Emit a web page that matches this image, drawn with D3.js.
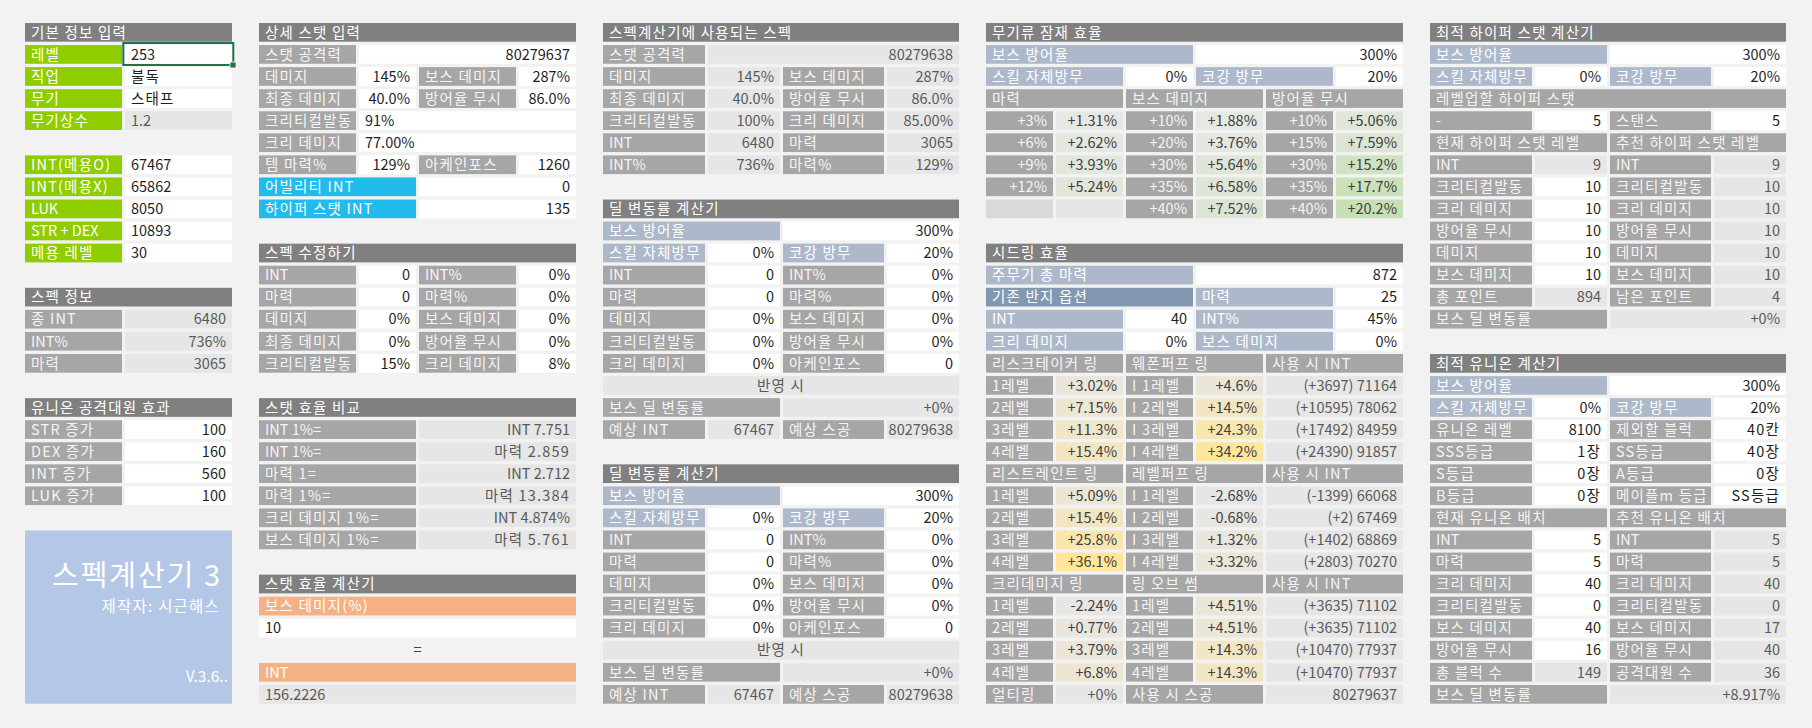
<!DOCTYPE html>
<html>
<head>
<meta charset="utf-8">
<script src="https://cdn.jsdelivr.net/npm/d3@7"></script>
<style>
  body { margin: 0; background: #f2f2f2; }
  svg { display: block; font-family: "Noto Sans CJK KR", "Noto Sans", sans-serif; font-size: 14.5px; }
</style>
</head>
<body>
<svg width="1812" height="728"></svg>
<script>
// ---- data ----
// 기본 정보 / 스펙 정보 / 유니온
var titles1 = ["기본 정보 입력", "스펙 정보", "유니온 공격대원 효과"];
var basicLabels = ["레벨", "직업", "무기", "무기상수"];
var basicValues = ["253", "불독", "스태프", "1.2"];
var charLabels = ["INT(메용O)", "INT(메용X)", "LUK", "STR + DEX", "메용 레벨"];
var charValues = [67467, 65862, 8050, 10893, 30];
var specLabels = ["종 INT", "INT%", "마력"];
var specValues = ["6480", "736%", "3065"];
var unionBonusLabels = ["STR 증가", "DEX 증가", "INT 증가", "LUK 증가"];
var unionBonusValues = [100, 160, 560, 100];
var creditLines = ["스펙계산기 3", "제작자: 시근해스", "V.3.6.."];

// 상세 스탯 입력 / 스펙 수정하기 / 스탯 효율
var titles2 = ["상세 스탯 입력", "스펙 수정하기", "스탯 효율 비교", "스탯 효율 계산기"];
var statAttack = [80279637, 80279638];   // 입력값, 계산기에 쓰인 값
var detailRows = [
    ["데미지", "145%", "보스 데미지", "287%"],
    ["최종 데미지", "40.0%", "방어율 무시", "86.0%"],
    ["크리티컬발동", "91%"],
    ["크리 데미지", "77.00%"],
    ["템 마력%", "129%", "아케인포스", "1260"]
];
var bonusIntLabels = ["어빌리티 INT", "하이퍼 스탯 INT"];
var bonusIntValues = [0, 135];
var modifyRows = [
    ["INT", "0", "INT%", "0%"],
    ["마력", "0", "마력%", "0%"],
    ["데미지", "0%", "보스 데미지", "0%"],
    ["최종 데미지", "0%", "방어율 무시", "0%"],
    ["크리티컬발동", "15%", "크리 데미지", "8%"]
];
var compareLabels = ["INT 1%=", "INT 1%=", "마력 1=", "마력 1%=", "크리 데미지 1%=", "보스 데미지 1%="];
var compareValues = ["INT 7.751", "마력 2.859", "INT 2.712", "마력 13.384", "INT 4.874%", "마력 5.761"];
var effCalcLabels = ["보스 데미지(%)", "INT"];
var effCalcValues = ["10", "156.2226"];

// 스펙계산기에 사용되는 스펙 / 딜 변동률 계산기
var titles3 = ["스펙계산기에 사용되는 스펙", "딜 변동률 계산기"];
var usedRows = [
    ["데미지", "145%", "보스 데미지", "287%"],
    ["최종 데미지", "40.0%", "방어율 무시", "86.0%"],
    ["크리티컬발동", "100%", "크리 데미지", "85.00%"],
    ["INT", "6480", "마력", "3065"],
    ["INT%", "736%", "마력%", "129%"]
];
var defenseLabels = ["보스 방어율", "스킬 자체방무", "코강 방무"];
var defenseValues = ["300%", "0%", "20%"];
var dealRows = [
    ["INT", "0", "INT%", "0%"],
    ["마력", "0", "마력%", "0%"],
    ["데미지", "0%", "보스 데미지", "0%"],
    ["크리티컬발동", "0%", "방어율 무시", "0%"],
    ["크리 데미지", "0%", "아케인포스", "0"]
];
var dealResultLabels = ["반영 시", "보스 딜 변동률", "예상 INT", "예상 스공"];
var dealResult = ["+0%", "67467", "80279638"];

// 무기류 잠재 효율
var titles4 = ["무기류 잠재 효율", "시드링 효율"];
var potentialHeads = ["마력", "보스 데미지", "방어율 무시"];
var magicOpts = [3, 6, 9, 12];
var magicGain = [1.31, 2.62, 3.93, 5.24];
var bossOpts = [10, 20, 30, 35, 40];
var bossGain = [1.88, 3.76, 5.64, 6.58, 7.52];
var iedOpts = [10, 15, 30, 35, 40];
var iedGain = [5.06, 7.59, 15.2, 17.7, 20.2];

// 시드링 효율
var seedLabels = ["주무기 총 마력", "기존 반지 옵션", "마력", "INT", "INT%", "크리 데미지", "보스 데미지"];
var seedValues = ["872", "25", "40", "45%", "0%", "0%"];
var levelNames = ["1레벨", "2레벨", "3레벨", "4레벨"];
var ringNames = ["리스크테이커 링", "웨폰퍼프 링", "리스트레인트 링", "레벨퍼프 링", "크리데미지 링", "링 오브 썸"];
var riskTaker = [3.02, 7.15, 11.3, 15.4];
var weaponPuff = [4.6, 14.5, 24.3, 34.2];
var weaponPuffInt = ["(+3697) 71164", "(+10595) 78062", "(+17492) 84959", "(+24390) 91857"];
var restraint = [5.09, 15.4, 25.8, 36.1];
var levelPuff = [-2.68, -0.68, 1.32, 3.32];
var levelPuffInt = ["(-1399) 66068", "(+2) 67469", "(+1402) 68869", "(+2803) 70270"];
var critRing = [-2.24, 0.77, 3.79, 6.8];
var ringOfSum = [4.51, 4.51, 14.3, 14.3];
var ringOfSumInt = ["(+3635) 71102", "(+3635) 71102", "(+10470) 77937", "(+10470) 77937"];
var ultimateRing = 0;
var ringAttack = 80279637;

// 최적 하이퍼 스탯 / 유니온
var titles5 = ["최적 하이퍼 스탯 계산기", "최적 유니온 계산기"];
var hyperLevelUp = ["-", "5", "스탠스", "5"];
var hyperLabels = ["INT", "크리티컬발동", "크리 데미지", "방어율 무시", "데미지", "보스 데미지"];
var hyperCurrent = [9, 10, 10, 10, 10, 10];
var hyperBest = [9, 10, 10, 10, 10, 10];
var hyperPoints = [894, 4];
var hyperGain = "+0%";
var unionInputRows = [
    ["유니온 레벨", "8100", "제외할 블럭", "40칸"],
    ["SSS등급", "1장", "SS등급", "40장"],
    ["S등급", "0장", "A등급", "0장"],
    ["B등급", "0장", "메이플m 등급", "SS등급"]
];
var unionLabels = ["INT", "마력", "크리 데미지", "크리티컬발동", "보스 데미지", "방어율 무시"];
var unionCurrent = [5, 5, 40, 0, 40, 16];
var unionBest = [5, 5, 40, 0, 17, 40];
var unionCounts = [149, 36];
var unionGain = "+8.917%";

// ---- layout ----
var svg = d3.select("svg");
var rowY = d3.scaleLinear().domain([0, 30]).range([23, 685]);
var ROW_H = 18.7, GAP = 3, PAD = 6;
var HANGUL = /[\uac00-\ud7a3]/;

var STYLES = {
    head:      { fill: "#808080", color: "#ffffff", align: "l" },
    label:     { fill: "#a6a6a6", color: "#f5f5f5", align: "l" },
    input:     { fill: "#ffffff", color: "#1e1e1e", align: "r" },
    calc:      { fill: "#e6e6e6", color: "#595959", align: "r" },
    tint:      { fill: "#e6e6e6", color: "#404040", align: "r" },
    green:     { fill: "#8fcc00", color: "#ffffff", align: "l" },
    cyan:      { fill: "#22bbec", color: "#ffffff", align: "l" },
    slate:     { fill: "#adb9ca", color: "#ffffff", align: "l" },
    slateDark: { fill: "#8497b0", color: "#ffffff", align: "l" },
    orange:    { fill: "#f4b183", color: "#ffffff", align: "l" },
    empty:     { fill: "#d9d9d9", color: "#ffffff", align: "l" },
    plain:     { fill: "none",    color: "#404040", align: "c" }
};

function pct(v) { return (v < 0 ? "-" : "+") + Math.abs(v) + "%"; }

// one panel = a group of spreadsheet columns; returns a cell drawer
function makePanel(edges) {
    var colX = d3.scaleOrdinal().domain(d3.range(edges.length)).range(edges);
    var g = svg.append("g");
    return function(r, c0, c1, text, style, align, fill) {
        var s = STYLES[style];
        var x0 = colX(c0), w = colX(c1) - x0 - GAP, y = rowY(r);
        var f = fill || s.fill;
        if (f !== "none") {
            g.append("rect").attr("x", x0).attr("y", y)
                .attr("width", w).attr("height", ROW_H).attr("fill", f);
        }
        if (text === "" || text == null) return;
        var a = align || s.align;
        var t = g.append("text")
            .attr("y", y + ROW_H / 2).attr("dy", "0.36em")
            .attr("fill", s.color).text(text);
        // malgun-like wider hangul
        if (HANGUL.test(String(text))) t.style("letter-spacing", "1.2px");
        if (a === "r") t.attr("x", x0 + w - PAD).attr("text-anchor", "end");
        else if (a === "c") t.attr("x", x0 + w / 2).attr("text-anchor", "middle");
        else t.attr("x", x0 + PAD);
    };
}

function pairRows(p, start, rows, valStyle) {
    rows.forEach(function(d, i) {
        var r = start + i;
        p(r, 0, 1, d[0], "label");
        p(r, 1, 2, d[1], valStyle);
        p(r, 2, 3, d[2], "label");
        p(r, 3, 4, d[3], valStyle);
    });
}

// 보스 방어율 + 스킬 자체방무/코강 방무 (4-column panels)
function defenseBlock(p, r) {
    p(r, 0, 2, defenseLabels[0], "slate");
    p(r, 2, 4, defenseValues[0], "input");
    p(r + 1, 0, 1, defenseLabels[1], "slate");
    p(r + 1, 1, 2, defenseValues[1], "input");
    p(r + 1, 2, 3, defenseLabels[2], "slate");
    p(r + 1, 3, 4, defenseValues[2], "input");
}

// ---- panel 1 ----
var p1 = makePanel([25, 125, 235]);
p1(0, 0, 2, titles1[0], "head");
basicLabels.forEach(function(d, i) {
    p1(1 + i, 0, 1, d, "green");
    p1(1 + i, 1, 2, basicValues[i], i === 3 ? "calc" : "input", "l");
});
charLabels.forEach(function(d, i) {
    p1(6 + i, 0, 1, d, "green");
    p1(6 + i, 1, 2, charValues[i], "input", "l");
});
p1(12, 0, 2, titles1[1], "head");
specLabels.forEach(function(d, i) {
    p1(13 + i, 0, 1, d, "label");
    p1(13 + i, 1, 2, specValues[i], "calc");
});
p1(17, 0, 2, titles1[2], "head");
unionBonusLabels.forEach(function(d, i) {
    p1(18 + i, 0, 1, d, "label");
    p1(18 + i, 1, 2, unionBonusValues[i], "input");
});

// active cell outline (excel selection)
svg.append("rect").attr("x", 123.3).attr("y", 43).attr("width", 110).attr("height", 22)
    .attr("fill", "none").attr("stroke", "#217346").attr("stroke-width", 2);
svg.append("rect").attr("x", 230).attr("y", 62).attr("width", 6).attr("height", 6)
    .attr("fill", "#217346").attr("stroke", "#ffffff").attr("stroke-width", 0.8);

// title card
var cardTop = rowY(23), cardBottom = rowY(30) + ROW_H;
svg.append("rect").attr("x", 25).attr("y", cardTop).attr("width", 207)
    .attr("height", cardBottom - cardTop).attr("fill", "#b4c7e7");
svg.append("text").attr("x", 222).attr("y", 586).attr("text-anchor", "end")
    .attr("fill", "#ffffff").style("font-size", "29px").style("letter-spacing", "2px")
    .text(creditLines[0]);
svg.append("text").attr("x", 220).attr("y", 612).attr("text-anchor", "end")
    .attr("fill", "#ffffff").style("font-size", "15.5px").style("letter-spacing", "1.2px")
    .text(creditLines[1]);
svg.append("text").attr("x", 228).attr("y", 682).attr("text-anchor", "end")
    .attr("fill", "#ffffff").style("font-size", "15.5px").text(creditLines[2]);

// ---- panel 2 ----
var p2 = makePanel([259, 359, 419, 519, 579]);
p2(0, 0, 4, titles2[0], "head");
p2(1, 0, 1, "스탯 공격력", "label");
p2(1, 1, 4, statAttack[0], "input");
detailRows.forEach(function(d, i) {
    var r = 2 + i;
    p2(r, 0, 1, d[0], "label");
    if (d.length === 2) {
        p2(r, 1, 4, d[1], "input", "l");
    } else {
        p2(r, 1, 2, d[1], "input");
        p2(r, 2, 3, d[2], "label");
        p2(r, 3, 4, d[3], "input");
    }
});
bonusIntLabels.forEach(function(d, i) {
    p2(7 + i, 0, 2, d, "cyan");
    p2(7 + i, 2, 4, bonusIntValues[i], "input");
});
p2(10, 0, 4, titles2[1], "head");
pairRows(p2, 11, modifyRows, "input");
p2(17, 0, 4, titles2[2], "head");
compareLabels.forEach(function(d, i) {
    p2(18 + i, 0, 2, d, "label");
    p2(18 + i, 2, 4, compareValues[i], "calc");
});
p2(25, 0, 4, titles2[3], "head");
p2(26, 0, 4, effCalcLabels[0], "orange");
p2(27, 0, 4, effCalcValues[0], "input", "l");
p2(28, 0, 4, "=", "plain", "c");
p2(29, 0, 4, effCalcLabels[1], "orange");
p2(30, 0, 4, effCalcValues[1], "calc", "l");

// ---- panel 3 ----
var p3 = makePanel([603, 708, 783, 887, 962]);
p3(0, 0, 4, titles3[0], "head");
p3(1, 0, 1, "스탯 공격력", "label");
p3(1, 1, 4, statAttack[1], "calc");
pairRows(p3, 2, usedRows, "calc");

[8, 20].forEach(function(b) {
    p3(b, 0, 4, titles3[1], "head");
    defenseBlock(p3, b + 1);
    pairRows(p3, b + 3, dealRows, "input");
    p3(b + 8, 0, 4, dealResultLabels[0], "calc", "c");
    p3(b + 9, 0, 2, dealResultLabels[1], "label");
    p3(b + 9, 2, 4, dealResult[0], "calc");
    p3(b + 10, 0, 1, dealResultLabels[2], "label");
    p3(b + 10, 1, 2, dealResult[1], "calc");
    p3(b + 10, 2, 3, dealResultLabels[3], "label");
    p3(b + 10, 3, 4, dealResult[2], "calc");
});

// ---- panel 4 ----
var p4 = makePanel([986, 1056, 1126, 1196, 1266, 1336, 1406]);
var potentialColor = d3.scaleLinear()
    .domain(d3.extent(magicGain.concat(bossGain, iedGain)))
    .range(["#e7e8e4", "#c6e0b4"]);
var ringColor = d3.scaleLinear()
    .domain(d3.extent(riskTaker.concat(weaponPuff, restraint, levelPuff, critRing, ringOfSum)))
    .range(["#e7e6e6", "#ffe699"]);

p4(0, 0, 6, titles4[0], "head");
p4(1, 0, 3, defenseLabels[0], "slate");
p4(1, 3, 6, defenseValues[0], "input");
p4(2, 0, 2, defenseLabels[1], "slate");
p4(2, 2, 3, defenseValues[1], "input");
p4(2, 3, 5, defenseLabels[2], "slate");
p4(2, 5, 6, defenseValues[2], "input");
potentialHeads.forEach(function(d, i) { p4(3, i * 2, i * 2 + 2, d, "label"); });
[[magicOpts, magicGain], [bossOpts, bossGain], [iedOpts, iedGain]].forEach(function(pair, k) {
    var opts = pair[0], gains = pair[1], c = k * 2;
    d3.range(5).forEach(function(j) {
        var r = 4 + j;
        if (j < opts.length) {
            p4(r, c, c + 1, "+" + opts[j] + "%", "label", "r");
            p4(r, c + 1, c + 2, pct(gains[j]), "tint", "r", potentialColor(gains[j]));
        } else {
            p4(r, c, c + 1, "", "empty");
            p4(r, c + 1, c + 2, "", "calc");
        }
    });
});

p4(10, 0, 6, titles4[1], "head");
p4(11, 0, 3, seedLabels[0], "slate");
p4(11, 3, 6, seedValues[0], "input");
p4(12, 0, 3, seedLabels[1], "slateDark");
p4(12, 3, 5, seedLabels[2], "slate");
p4(12, 5, 6, seedValues[1], "input");
[[13, 3, 4], [14, 5, 6]].forEach(function(d, i) {
    p4(d[0], 0, 2, seedLabels[d[1]], "slate");
    p4(d[0], 2, 3, seedValues[2 + i * 2], "input");
    p4(d[0], 3, 5, seedLabels[d[2]], "slate");
    p4(d[0], 5, 6, seedValues[3 + i * 2], "input");
});

var ringBlocks = [
    { row: 15, names: [ringNames[0], ringNames[1]], left: riskTaker, right: weaponPuff, ints: weaponPuffInt, prefix: "I " },
    { row: 20, names: [ringNames[2], ringNames[3]], left: restraint, right: levelPuff, ints: levelPuffInt, prefix: "I " },
    { row: 25, names: [ringNames[4], ringNames[5]], left: critRing, right: ringOfSum, ints: ringOfSumInt, prefix: "" }
];
ringBlocks.forEach(function(b) {
    p4(b.row, 0, 2, b.names[0], "label");
    p4(b.row, 2, 4, b.names[1], "label");
    p4(b.row, 4, 6, "사용 시 INT", "label");
    levelNames.forEach(function(lv, j) {
        var r = b.row + 1 + j;
        p4(r, 0, 1, lv, "label");
        p4(r, 1, 2, pct(b.left[j]), "tint", "r", ringColor(b.left[j]));
        p4(r, 2, 3, b.prefix + lv, "label");
        p4(r, 3, 4, pct(b.right[j]), "tint", "r", ringColor(b.right[j]));
        p4(r, 4, 6, b.ints[j], "calc");
    });
});
p4(30, 0, 1, "얼티링", "label");
p4(30, 1, 2, pct(ultimateRing), "calc");
p4(30, 2, 4, "사용 시 스공", "label");
p4(30, 4, 6, ringAttack, "calc");

// ---- panel 5 ----
var p5 = makePanel([1430, 1535, 1610, 1714, 1789]);
p5(0, 0, 4, titles5[0], "head");
defenseBlock(p5, 1);
p5(3, 0, 4, "레벨업할 하이퍼 스탯", "label");
p5(4, 0, 1, hyperLevelUp[0], "label");
p5(4, 1, 2, hyperLevelUp[1], "input");
p5(4, 2, 3, hyperLevelUp[2], "label");
p5(4, 3, 4, hyperLevelUp[3], "input");
p5(5, 0, 2, "현재 하이퍼 스탯 레벨", "label");
p5(5, 2, 4, "추천 하이퍼 스탯 레벨", "label");
hyperLabels.forEach(function(d, i) {
    var r = 6 + i;
    p5(r, 0, 1, d, "label");
    p5(r, 1, 2, hyperCurrent[i], i === 0 ? "calc" : "input");
    p5(r, 2, 3, d, "label");
    p5(r, 3, 4, hyperBest[i], "calc");
});
p5(12, 0, 1, "총 포인트", "label");
p5(12, 1, 2, hyperPoints[0], "calc");
p5(12, 2, 3, "남은 포인트", "label");
p5(12, 3, 4, hyperPoints[1], "calc");
p5(13, 0, 2, "보스 딜 변동률", "label");
p5(13, 2, 4, hyperGain, "calc");

p5(15, 0, 4, titles5[1], "head");
defenseBlock(p5, 16);
pairRows(p5, 18, unionInputRows, "input");
p5(22, 0, 2, "현재 유니온 배치", "label");
p5(22, 2, 4, "추천 유니온 배치", "label");
unionLabels.forEach(function(d, i) {
    var r = 23 + i;
    p5(r, 0, 1, d, "label");
    p5(r, 1, 2, unionCurrent[i], "input");
    p5(r, 2, 3, d, "label");
    p5(r, 3, 4, unionBest[i], "calc");
});
p5(29, 0, 1, "총 블럭 수", "label");
p5(29, 1, 2, unionCounts[0], "calc");
p5(29, 2, 3, "공격대원 수", "label");
p5(29, 3, 4, unionCounts[1], "calc");
p5(30, 0, 2, "보스 딜 변동률", "label");
p5(30, 2, 4, unionGain, "calc");
</script>
</body>
</html>
